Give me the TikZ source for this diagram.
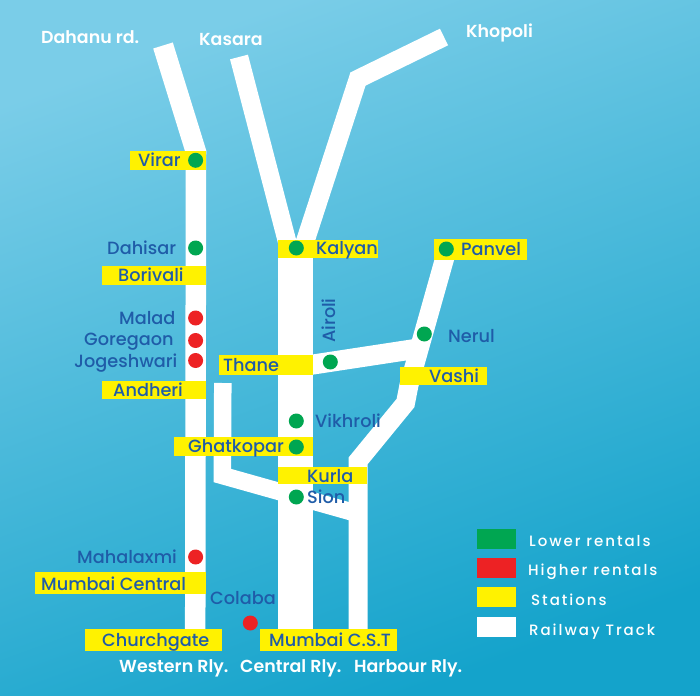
\documentclass[tikz,border=0pt]{standalone}
\usepackage{fontspec}
\setmainfont{Poppins Medium}
\newfontfamily\boldfont{Poppins SemiBold}
\newfontfamily\legendfont[LetterSpace=13]{Poppins Medium}
\definecolor{bgtop}{HTML}{7ACDE8}
\definecolor{bgbottom}{HTML}{14A3CB}
\definecolor{namecol}{HTML}{1F5CA8}
\definecolor{lowercol}{HTML}{00A651}
\definecolor{highercol}{HTML}{ED2224}
\definecolor{stationcol}{HTML}{FFF200}
\tikzset{
    track/.style={draw=white,line width=#1},
    lowerdot/.style={circle,fill=lowercol,inner sep=0pt,minimum size=15pt},
    higherdot/.style={circle,fill=highercol,inner sep=0pt,minimum size=15pt},
    station/.style={anchor=base west,inner sep=0pt,text=namecol,font=\fontsize{17.7}{20}\selectfont},
    linename/.style={anchor=base west,inner sep=0pt,text=white,font=\fontsize{17.4}{20}\boldfont},
    keybox/.style={anchor=north west,inner sep=0pt,minimum width=39pt,minimum height=20pt},
    keytext/.style={anchor=base west,inner sep=0pt,text=white,font=\fontsize{15}{17}\legendfont}
}
\begin{document}
\begin{tikzpicture}[x=1pt,y=-1pt]
    % background
    \shade[shading=axis,top color=bgtop,bottom color=bgbottom,shading angle=20]
        (0,0) rectangle (700,695);

    % track
    \coordinate (dahanu) at (163,45.5);
    \coordinate (virarbend) at (196,152);
    \coordinate (churchend) at (195.2,635);
    \draw[track=20.5pt] (dahanu) -- (virarbend) -- (churchend);

    \coordinate (kasara) at (239,57);
    \coordinate (kasaraend) at (288,245);
    \coordinate (khopoli) at (444,37);
    \coordinate (khopolibend) at (358,79);
    \coordinate (khopoliend) at (304,245);
    \draw[track=18.5pt] (kasara) -- (kasaraend);
    \draw[track=18.5pt] (khopoli) -- (khopolibend) -- (khopoliend);
    \coordinate (kalyantop) at (295.5,245);
    \coordinate (cstend) at (295.5,635);
    \draw[track=35pt] (kalyantop) -- (cstend);

    \coordinate (panveltop) at (447,250);
    \coordinate (vashibend) at (409,385);
    \coordinate (belowvashi) at (405.5,403);
    \coordinate (kurlabend) at (358,461);
    \coordinate (harbourend) at (358,635);
    \draw[track=19pt] (panveltop) -- (vashibend) -- (belowvashi) -- (kurlabend) -- (harbourend);

    \coordinate (thanejoin) at (300,366.5);
    \coordinate (nerulend) at (415,349);
    \draw[track=20pt] (thanejoin) -- (nerulend);

    \coordinate (spurtop) at (222.8,383);
    \coordinate (spurbend) at (222.3,475.5);
    \coordinate (spurend) at (352,512);
    \draw[track=17.5pt] (spurtop) -- (spurbend) -- (spurend);

    % yellow bars
    \fill[stationcol] (130,151) rectangle (205.7,170);
    \fill[stationcol] (102,266) rectangle (205.7,285);
    \fill[stationcol] (278,240) rectangle (378,258);
    \fill[stationcol] (434,239) rectangle (527,260);
    \fill[stationcol] (102,381) rectangle (205.7,399);
    \fill[stationcol] (219,355) rectangle (313,375);
    \fill[stationcol] (400,367) rectangle (487,385);
    \fill[stationcol] (174,437) rectangle (313,456);
    \fill[stationcol] (278,467) rectangle (367,484);
    \fill[stationcol] (35,572) rectangle (205.7,594);
    \fill[stationcol] (85,629) rectangle (222,651);
    \fill[stationcol] (260,629) rectangle (397,651);

    % dots
    \node[lowerdot] (virardot) at (195.6,160.3) {};
    \node[lowerdot] (dahisardot) at (195.6,248) {};
    \node[lowerdot] (kalyandot) at (296.3,248) {};
    \node[lowerdot] (panveldot) at (446.3,249) {};
    \node[lowerdot] (neruldot) at (424.3,334) {};
    \node[lowerdot] (airolidot) at (330.3,362) {};
    \node[lowerdot] (vikhrolidot) at (296.3,421) {};
    \node[lowerdot] (ghatkopardot) at (296.3,447) {};
    \node[lowerdot] (siondot) at (296.3,497) {};
    \node[higherdot] (maladdot) at (195.6,318) {};
    \node[higherdot] (goregaondot) at (195.6,340.5) {};
    \node[higherdot] (jogeshwaridot) at (195.6,360.5) {};
    \node[higherdot] (mahalaxmidot) at (195.6,557) {};
    \node[higherdot] (colabadot) at (250.3,623) {};

    % station names
    \node[station] (virar) at (138,166.5) {Virar};
    \node[station] (dahisar) at (107,254.5) {Dahisar};
    \node[station] (borivali) at (118,281.5) {Borivali};
    \node[station] (kalyan) at (316,254.5) {Kalyan};
    \node[station] (panvel) at (461,255.5) {Panvel};
    \node[station] (malad) at (119,324) {Malad};
    \node[station] (goregaon) at (84,345) {Goregaon};
    \node[station] (jogeshwari) at (74,367) {Jogeshwari};
    \node[station] (andheri) at (113,396) {Andheri};
    \node[station] (thane) at (223,371) {Thane};
    \node[station,rotate=90] (airoli) at (335.5,343) {Airoli};
    \node[station] (nerul) at (448,342) {Nerul};
    \node[station] (vashi) at (429,382) {Vashi};
    \node[station] (vikhroli) at (315,427) {Vikhroli};
    \node[station] (ghatkopar) at (188,452) {Ghatkopar};
    \node[station] (kurla) at (307,482) {Kurla};
    \node[station] (sion) at (307,503) {Sion};
    \node[station] (mahalaxmi) at (77,563) {Mahalaxmi};
    \node[station] (mumbaicentral) at (41,590) {Mumbai Central};
    \node[station] (colaba) at (210,604) {Colaba};
    \node[station] (churchgate) at (102,646) {Churchgate};
    \node[station] (mumbaicst) at (269,646) {Mumbai C.S.T};

    % white names
    \node[linename] (dahanurd) at (41,44) {Dahanu rd.};
    \node[linename] (kasaraname) at (199,46) {Kasara};
    \node[linename] (khopoliname) at (466,38) {Khopoli};
    \node[linename] (westernrly) at (119,672) {Western Rly.};
    \node[linename] (centralrly) at (240,672) {Central Rly.};
    \node[linename] (harbourrly) at (354,672) {Harbour Rly.};

    % key
    \node[keybox,fill=lowercol] (keylower) at (477,529) {};
    \node[keybox,fill=highercol] (keyhigher) at (477,558) {};
    \node[keybox,fill=stationcol] (keystations) at (477,587) {};
    \node[keybox,fill=white] (keytrack) at (477,617) {};
    \node[keytext] (lowertext) at (529,546.5) {Lower rentals};
    \node[keytext] (highertext) at (528,575.5) {Higher rentals};
    \node[keytext] (stationstext) at (531,605.5) {Stations};
    \node[keytext] (tracktext) at (529,635.5) {Railway Track};
\end{tikzpicture}
\end{document}
